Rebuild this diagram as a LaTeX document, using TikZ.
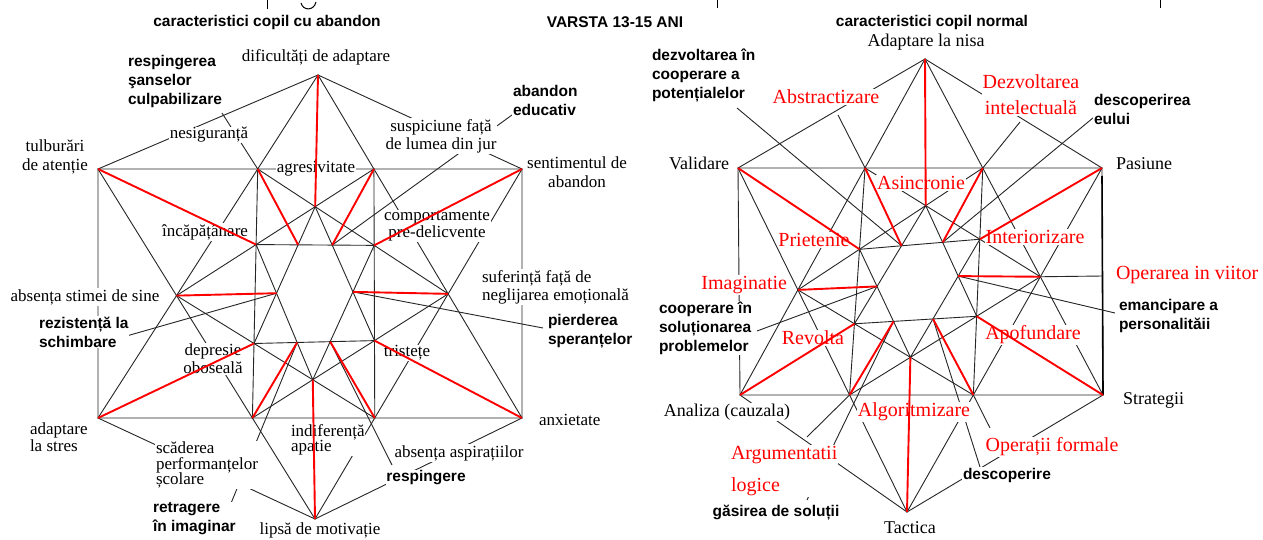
\documentclass[tikz,border=0pt]{standalone}
\usepackage{fontspec}
\usetikzlibrary{calc}
\setmainfont{Liberation Serif}
\setsansfont{Liberation Sans}
\newcommand{\buildstar}[1]{%
 \coordinate (#1a1) at (intersection of #1T--#1BL and #1TL--#1TR);
 \coordinate (#1a2) at (intersection of #1T--#1BR and #1TL--#1TR);
 \coordinate (#1L) at (intersection of #1T--#1BL and #1B--#1TL);
 \coordinate (#1R) at (intersection of #1T--#1BR and #1B--#1TR);
 \coordinate (#1b1) at (intersection of #1B--#1TL and #1BL--#1BR);
 \coordinate (#1b2) at (intersection of #1B--#1TR and #1BL--#1BR);
 \coordinate (#1ht) at (intersection of #1a1--#1R and #1a2--#1L);
 \coordinate (#1hb) at (intersection of #1b1--#1R and #1b2--#1L);
 \coordinate (#1c1) at (intersection of #1a1--#1b1 and #1a2--#1L);
 \coordinate (#1c2) at (intersection of #1a2--#1b2 and #1a1--#1R);
 \coordinate (#1c3) at (intersection of #1a1--#1b1 and #1b2--#1L);
 \coordinate (#1c4) at (intersection of #1a2--#1b2 and #1b1--#1R);
 \coordinate (#1hl) at (intersection of #1ht--#1c3 and #1hb--#1c1);
 \coordinate (#1hr) at (intersection of #1ht--#1c4 and #1hb--#1c2);
 \coordinate (#1d1) at (intersection of #1ht--#1c3 and #1c1--#1c2);
 \coordinate (#1d2) at (intersection of #1ht--#1c4 and #1c1--#1c2);
 \coordinate (#1d3) at (intersection of #1hb--#1c1 and #1c3--#1c4);
 \coordinate (#1d4) at (intersection of #1hb--#1c2 and #1c3--#1c4);
}
\newcommand{\drawstar}[1]{%
 \draw[blk] (#1T)--(#1TL)--(#1BL)--(#1B)--(#1BR)--(#1TR)--cycle;
 \draw[blk] (#1T)--(#1BL)--(#1BR)--cycle;
 \draw[blk] (#1B)--(#1TL)--(#1TR)--cycle;
 \draw[blk] (#1a1)--(#1b1)--(#1R)--cycle;
 \draw[blk] (#1a2)--(#1b2)--(#1L)--cycle;
 \draw[blk] (#1ht)--(#1c3)--(#1c4)--cycle;
 \draw[blk] (#1hb)--(#1c1)--(#1c2)--cycle;
}
\newcommand{\redstar}[1]{%
 \draw[redl] (#1T)--(#1ht) (#1TL)--(#1c1) (#1a1)--(#1d1) (#1a2)--(#1d2)
   (#1TR)--(#1c2) (#1L)--(#1hl) (#1R)--(#1hr) (#1BL)--(#1c3)
   (#1b1)--(#1d3) (#1b2)--(#1d4) (#1BR)--(#1c4) (#1B)--(#1hb);
}
\begin{document}
\begin{tikzpicture}[x=1pt,y=-1pt,
  blk/.style={draw=black!85,line width=0.9pt},
  redl/.style={draw=red,line width=1.9pt},
  lab/.style={fill=white,inner sep=0.8pt},
  slab/.style={lab,font=\fontsize{17}{19}\selectfont},
  srab/.style={lab,font=\fontsize{18}{21}\selectfont},
  rlab/.style={lab,text=red,font=\fontsize{20}{26}\selectfont},
  blab/.style={lab,font=\sffamily\bfseries\fontsize{15.5}{19}\selectfont},
]
\useasboundingbox (0,0) rectangle (1263,540);
\fill[white] (0,0) rectangle (1263,540);

% fragments of a cut-off line at the top edge
\draw[black,line width=1pt] (267,0)--(267,9) (717,0)--(717,8) (1160,0)--(1160,8);
\draw[black,line width=1pt] (301,3) .. controls (303,11) and (314,11) .. (316,2);

% ---------- geometry ----------
\coordinate (lT) at (318,75);
\coordinate (lB) at (315,519);
\coordinate (lTL) at (98,169);
\coordinate (lTR) at (522,169);
\coordinate (lBL) at (98,418);
\coordinate (lBR) at (522,418);
\buildstar{l}
\coordinate (rT) at (925,59);
\coordinate (rB) at (907,512);
\coordinate (rTL) at (738,168);
\coordinate (rTR) at (1102,168);
\coordinate (rBL) at (740,395);
\coordinate (rBR) at (1103,395);
\buildstar{r}

\drawstar{l}
\drawstar{r}
\draw[draw=black,line width=1.6pt] ($(rTR)+(0,8)$) -- (rBR);

% leaders left
\coordinate (lq1) at (222,113);
\coordinate (lq2) at (512,115);
\coordinate (lq3) at (123,337);
\coordinate (lq4) at (543,328);
\coordinate (lq5) at (227,513);
\coordinate (lq6) at (392,465);
\draw[blk] (lq1)--(la1) (lq2)--(ld2) (lq3)--(lhl) (lq4)--(lhr) (lq5)--(ld3) (lq6)--(ld4);
% leaders right
\coordinate (rq1) at (737,108);
\coordinate (rq2) at (838,115);
\coordinate (rq3) at (1020,122);
\coordinate (rq4) at (1105,108);
\coordinate (rq5) at (1103,276);
\coordinate (rq6) at (1115,313);
\coordinate (rq7) at (757,331);
\coordinate (rq8) at (807,500);
\coordinate (rq9) at (990,428);
\coordinate (rq10) at (980,467);
\coordinate (rq12) at (807,437);
\draw[blk] (rq1)--(rd1) (rq2)--(ra1) (rq3)--(ra2) (rq4)--(rd2) (rR)--(rq5)
  (rq6)--(rhr) (rq7)--(rhl) (rq8)--(rd3) (rq9)--(rb2) (rq10)--(rd4) (rb1)--(rq12);

% ---------- labels ----------
\node[blab] (n1) at (267,22) {caracteristici copil cu abandon};
\node[blab] (n2) at (615,22) {VARSTA 13-15 ANI};
\node[blab] (n3) at (932,22) {caracteristici copil normal};
\node[slab] (n4) at (316,57) {dificultăți de adaptare};
\node[blab,align=left,anchor=west] (n5) at (127,81) {respingerea\\şanselor\\culpabilizare};
\node[slab] (n6) at (209,135) {nesiguranță};
\node[slab,align=center] (n7) at (55,157) {tulburări\\de atenție};
\node[slab] (n8) at (316,169) {agresivitate};
\node[slab,align=center,font=\fontsize{17}{18}\selectfont] (n9) at (441,136) {suspiciune față\\de lumea din jur};
\node[blab,align=left,anchor=west] (n10) at (512,100) {abandon\\educativ};
\node[slab,align=center] (n11) at (577,172) {sentimentul de\\abandon};
\node[slab] (n12) at (205,232) {încăpățânare};
\node[slab,align=center,font=\fontsize{17}{17}\selectfont] (n13) at (437,226) {comportamente\\pre-delicvente};
\node[slab] (n14) at (85,297) {absența stimei de sine};
\node[slab,align=left,anchor=west,font=\fontsize{17}{18}\selectfont] (n15) at (481,287) {suferință față de\\neglijarea emoțională};
\node[blab,align=left,anchor=west] (n16) at (38,332) {rezistență la\\schimbare};
\node[blab,align=left,anchor=west] (n17) at (547,331) {pierderea\\speranțelor};
\node[slab,align=center,font=\fontsize{17}{18}\selectfont] (n18) at (213,359) {depresie\\oboseală};
\node[slab] (n19) at (407,353) {tristețe};
\node[slab,align=left,anchor=west,font=\fontsize{17}{15}\selectfont] (n20) at (29,437) {adaptare\\la stres};
\node[slab,align=left,anchor=west,font=\fontsize{17}{15.5}\selectfont] (n21) at (155,465) {scăderea\\performanțelor\\școlare};
\node[slab,align=left,anchor=west,font=\fontsize{17}{15}\selectfont] (n22) at (290,440) {indiferență\\apatie};
\node[slab,anchor=west] (n23) at (538,420) {anxietate};
\node[slab] (n24) at (459,453) {absența aspirațiilor};
\node[blab] (n25) at (426,478) {respingere};
\node[blab,align=left,anchor=west] (n26) at (152,519) {retragere\\în imaginar};
\node[slab] (n27) at (320,530) {lipsă de motivație};

\node[srab] (m1) at (926,42) {Adaptare la nisa};
\node[blab,align=left,anchor=west] (m2) at (651,76) {dezvoltarea în\\cooperare a\\potențialelor};
\node[rlab] (m3) at (826,97) {Abstractizare};
\node[rlab,align=center] (m4) at (1031,95) {Dezvoltarea\\intelectuală};
\node[blab,align=left,anchor=west] (m5) at (1093,109) {descoperirea\\eului};
\node[srab,anchor=east] (m6) at (730,163) {Validare};
\node[rlab] (m7) at (921,183) {Asincronie};
\node[srab,anchor=west] (m8) at (1115,164) {Pasiune};
\node[rlab] (m9) at (814,240) {Prietenie};
\node[rlab] (m10) at (1035,237) {Interiorizare};
\node[rlab,anchor=east] (m11) at (788,285) {Imaginatie};
\node[rlab,anchor=west] (m12) at (1115,275) {Operarea in viitor};
\node[blab,align=left,anchor=west] (m13) at (658,328) {cooperare în\\soluționarea\\problemelor};
\node[blab,align=left,anchor=west] (m14) at (1118,316) {emancipare a\\personalităii};
\node[rlab] (m15) at (813,338) {Revolta};
\node[rlab] (m16) at (1033,335) {Apofundare};
\node[srab] (m17) at (727,412) {Analiza (cauzala)};
\node[rlab] (m18) at (914,412) {Algoritmizare};
\node[srab,anchor=west] (m19) at (1122,400) {Strategii};
\node[rlab,align=left,anchor=west,font=\fontsize{20}{32}\selectfont] (m20) at (730,471) {Argumentatii\\logice};
\node[rlab] (m21) at (1052,447) {Operații formale};
\node[blab,anchor=west] (m22) at (962,475) {descoperire};
\node[blab] (m23) at (776,513) {găsirea de soluții};
\node[srab] (m24) at (910,528) {Tactica};

% ---------- red lines on top ----------
\redstar{l}
\redstar{r}
\end{tikzpicture}
\end{document}
